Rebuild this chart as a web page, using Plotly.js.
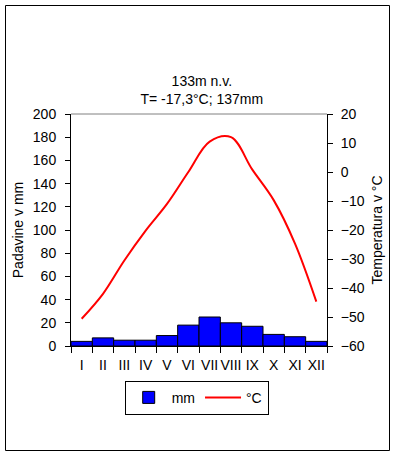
<!DOCTYPE html>
<html>
<head>
<meta charset="utf-8">
<script src="https://cdn.plot.ly/plotly-3.0.1.min.js"></script>
<style>
html,body{margin:0;padding:0;background:#fff;}
#chart{width:396px;height:456px;}
</style>
</head>
<body>
<div id="chart"></div>
<script>
// Data
var months = ['I','II','III','IV','V','VI','VII','VIII','IX','X','XI','XII'];
var precipMm = [4, 7, 5, 5, 9, 18, 25, 20, 17, 10, 8, 4];
var tempC = [-50.6, -42, -30.5, -20.2, -11, 0, 10.5, 12, 0.8, -9.7, -24.7, -44.7];
var titleLine1 = '133m n.v.';
var titleLine2 = 'T= -17,3°C; 137mm';

var FONT = 'Liberation Sans, Arial, sans-serif';

var traces = [
  {
    type: 'bar', name: 'mm', x: months, y: precipMm,
    marker: {color: '#0000FF', line: {color: '#000000', width: 1}},
    yaxis: 'y', hoverinfo: 'skip'
  },
  {
    type: 'scatter', mode: 'lines', name: '°C', x: months, y: tempC,
    line: {color: '#FF0000', width: 2, shape: 'spline', smoothing: 1},
    yaxis: 'y2', hoverinfo: 'skip'
  }
];

var layout = {
  width: 396, height: 456,
  margin: {l: 71, r: 69, t: 114, b: 110, pad: 0},
  paper_bgcolor: '#ffffff', plot_bgcolor: '#ffffff',
  font: {family: FONT, size: 14, color: '#000'},
  showlegend: true,
  bargap: 0,
  title: {
    text: titleLine1 + '<br>' + titleLine2,
    x: 0.511, xanchor: 'center', xref: 'paper',
    y: 1 - 86 / 456, yanchor: 'middle',
    font: {family: FONT, size: 14, color: '#000'}
  },
  xaxis: {
    type: 'category', tickmode: 'array', tickvals: months, ticktext: months,
    tickson: 'boundaries', ticks: 'outside', ticklen: 6, tickcolor: '#000',
    tickangle: 0,
    showline: true, linecolor: '#000', linewidth: 1, showgrid: false, zeroline: false,
    ticklabelstandoff: 6,
    tickfont: {family: FONT, size: 14, color: '#000'}
  },
  yaxis: {
    range: [0, 200], dtick: 20, tick0: 0, ticks: 'outside', ticklen: 5, tickcolor: '#000',
    showline: true, linecolor: '#000', linewidth: 1, showgrid: false, zeroline: false,
    ticklabelstandoff: 6,
    tickfont: {family: FONT, size: 14, color: '#000'},
    title: {text: 'Padavine v mm', font: {family: FONT, size: 14, color: '#000'}, standoff: 5}
  },
  yaxis2: {
    overlaying: 'y', side: 'right', range: [-60, 20], dtick: 10, tick0: 0,
    ticks: 'outside', ticklen: 5, tickcolor: '#000',
    showline: true, linecolor: '#000', linewidth: 1, showgrid: false, zeroline: false,
    ticklabelstandoff: 5,
    tickfont: {family: FONT, size: 14, color: '#000'},
    title: {text: 'Temperatura v °C', font: {family: FONT, size: 14, color: '#000'}, standoff: 8}
  },
  yaxis3: {
    overlaying: 'y', side: 'left', range: [0, 200], dtick: 20, tick0: 0,
    ticks: 'inside', ticklen: 5, tickcolor: '#000', showticklabels: false,
    showline: false, showgrid: false, zeroline: false
  },
  yaxis4: {
    overlaying: 'y', side: 'right', range: [-60, 20], dtick: 10, tick0: 0,
    ticks: 'inside', ticklen: 5, tickcolor: '#000', showticklabels: false,
    showline: false, showgrid: false, zeroline: false
  },
  legend: {
    orientation: 'h', x: 0.491, xanchor: 'center', y: -0.15, yanchor: 'top',
    bgcolor: '#fff', bordercolor: '#000', borderwidth: 1,
    font: {family: FONT, size: 14, color: '#000'},
    itemwidth: 36,
    traceorder: 'normal'
  },
  shapes: [
    {type: 'line', xref: 'paper', yref: 'paper', x0: 0, x1: 1, y0: 1, y1: 1,
     line: {color: '#808080', width: 1}},
    {type: 'rect', xref: 'paper', yref: 'paper',
     x0: (5.5 - 71) / 256, x1: (389.5 - 71) / 256,
     y0: (346 - 450.5) / 232, y1: (346 - 5.5) / 232,
     line: {color: '#000', width: 1}, fillcolor: 'rgba(0,0,0,0)', layer: 'below'}
  ]
};

Plotly.newPlot('chart', traces, layout, {staticPlot: true, displayModeBar: false});
</script>
</body>
</html>
